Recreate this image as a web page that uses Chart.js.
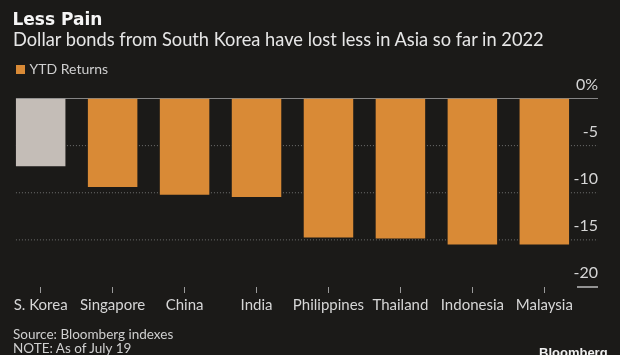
<!DOCTYPE html>
<html><head><meta charset="utf-8">
<script src="https://cdn.jsdelivr.net/npm/chart.js@4"></script>
<style>
html,body{margin:0;padding:0;background:#1b1a18;}
#wrap{position:relative;width:620px;height:355px;overflow:hidden;background:#1b1a18;}
canvas{position:absolute;left:0;top:0;}
.t{position:absolute;white-space:nowrap;line-height:1;font-family:Lato,sans-serif;}
</style></head><body>
<div id="wrap">
<canvas id="c" width="620" height="355"></canvas>
<div class="t" style="left:12.5px;top:10.6px;font-family:'DejaVu Sans';font-weight:bold;font-size:17px;color:#f5f5f5;">Less Pain</div>
<div class="t" style="left:13px;top:29.5px;font-size:18.25px;color:#e6e6e6;">Dollar bonds from South Korea have lost less in Asia so far in 2022</div>
<div style="position:absolute;left:16px;top:65px;width:8.6px;height:9.4px;background:#d98a36;"></div>
<div class="t" style="left:29.5px;top:61.6px;font-size:14px;color:#cfcfcf;">YTD Returns</div>
<div class="t" style="left:13px;top:328px;font-size:13.5px;color:#cfcfcf;">Source: Bloomberg indexes</div>
<div class="t" style="left:13px;top:342.3px;font-size:13.5px;color:#cfcfcf;">NOTE: As of July 19</div>
<div class="t" style="left:539px;top:346.3px;font-family:'Liberation Sans';font-weight:bold;font-size:13px;color:#f0f0f0;">Bloomberg</div>
</div>
<script>
const categories = ['S. Korea','Singapore','China','India','Philippines','Thailand','Indonesia','Malaysia'];
const ytdReturns = [-7.2, -9.4, -10.2, -10.45, -14.75, -14.85, -15.5, -15.5];
const yTickValues = [0, -5, -10, -15, -20];
const seriesName = 'YTD Returns';
const highlighted = 'S. Korea';

const ORANGE = '#d98a36', GRAY = '#c4bdb7';
const LABEL_INSET = 17.7;

const gridPlugin = {
  id: 'bbgGrid',
  beforeDatasetsDraw(chart) {
    const y = chart.scales.y, ctx = chart.ctx;
    const bar0 = chart.getDatasetMeta(0).data[0];
    const x0 = bar0.x - bar0.width / 2;
    const x1 = y.left + LABEL_INSET;
    ctx.save();
    y.ticks.forEach(t => {
      const py = y.getPixelForValue(t.value);
      ctx.beginPath();
      if (t.value === 0) {
        ctx.setLineDash([]); ctx.strokeStyle = '#858585'; ctx.lineWidth = 1;
        ctx.moveTo(x0, py); ctx.lineTo(x1, py);
      } else if (t.value === y.min) {
        ctx.setLineDash([]); ctx.strokeStyle = '#bdbdbd'; ctx.lineWidth = 1.5;
        ctx.moveTo(x1 - 21, py); ctx.lineTo(x1, py);
      } else {
        ctx.setLineDash([1, 2]); ctx.strokeStyle = '#707070'; ctx.lineWidth = 1;
        ctx.moveTo(x0, py); ctx.lineTo(x1, py);
      }
      ctx.stroke();
    });
    ctx.restore();
  }
};

new Chart(document.getElementById('c'), {
  type: 'bar',
  data: {
    labels: categories,
    datasets: [{
      label: seriesName,
      data: ytdReturns,
      backgroundColor: categories.map(c => c === highlighted ? GRAY : ORANGE),
      borderWidth: 0,
      categoryPercentage: 1,
      barPercentage: 0.688
    }]
  },
  options: {
    responsive: false,
    animation: false,
    devicePixelRatio: 1,
    layout: { padding: { left: 4.7, right: 0, top: 98.5, bottom: 38 } },
    plugins: { legend: { display: false }, tooltip: { enabled: false }, title: { display: false } },
    scales: {
      x: {
        offset: true,
        border: { display: false },
        grid: { display: true, drawOnChartArea: false, drawTicks: true, tickLength: 6, offset: false, color: '#9a9a9a', lineWidth: 1 },
        ticks: { color: '#d6d6d6', font: { family: 'Lato', size: 15 }, padding: 3, maxRotation: 0, autoSkip: false }
      },
      y: {
        position: 'right',
        min: Math.min(...yTickValues),
        max: Math.max(...yTickValues),
        border: { display: false },
        grid: { display: false, drawTicks: false },
        afterBuildTicks(scale) { scale.ticks = yTickValues.map(v => ({ value: v })); },
        afterFit(scale) { scale.width = 39.7; },
        ticks: {
          color: '#d6d6d6', font: { family: 'Lato', size: 16 },
          mirror: true, crossAlign: 'near', padding: LABEL_INSET, labelOffset: -14,
          callback: v => v === 0 ? '0%' : String(v)
        }
      }
    }
  },
  plugins: [gridPlugin]
});
</script>
</body></html>
